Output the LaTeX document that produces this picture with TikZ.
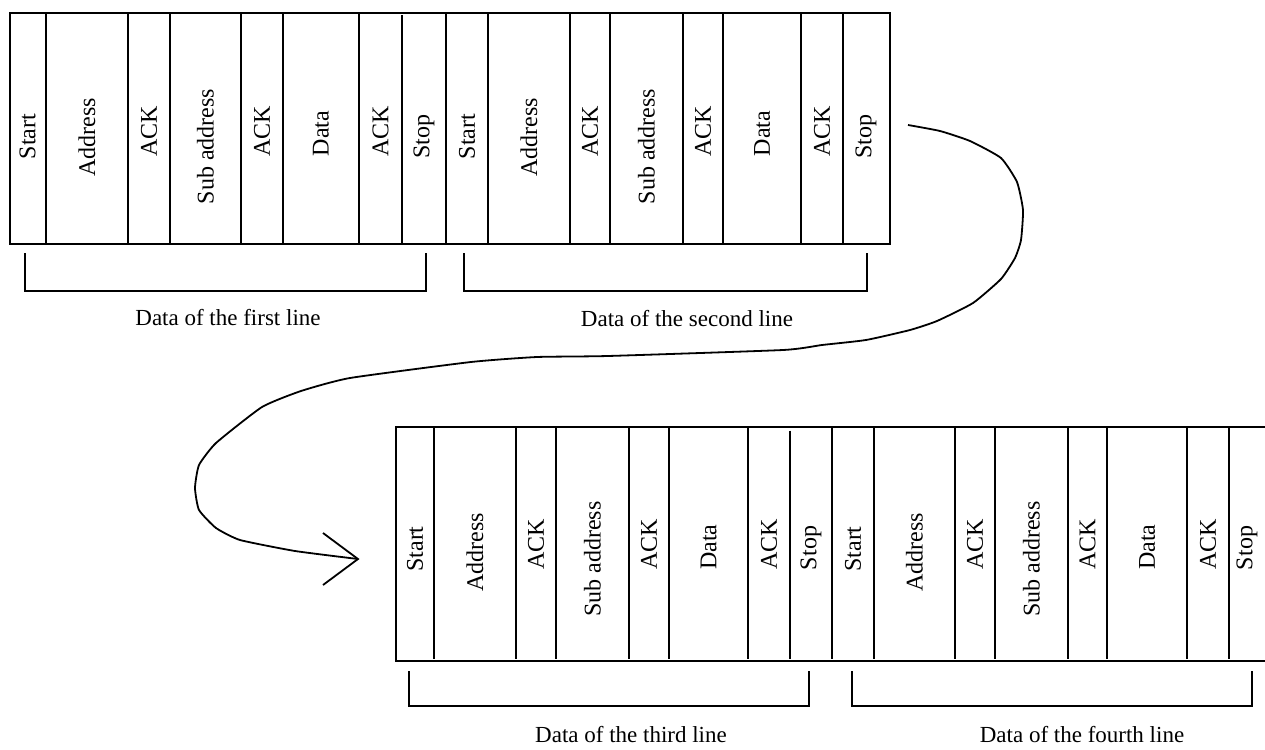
\documentclass[tikz,border=0pt]{standalone}
\usepackage{fontspec}
\setmainfont{Liberation Serif}
\begin{document}
\begin{tikzpicture}[x=1pt,y=-1pt,
  line width=1.8pt, line join=miter,
  lbl/.style={rotate=90,inner sep=0pt,font=\fontsize{24}{28}\selectfont},
  captext/.style={inner sep=0pt,font=\fontsize{23}{27}\selectfont},
  rowframe/.style={inner sep=0pt,anchor=north west}]
\useasboundingbox (0,0) rectangle (1265,749);

% ---- top row frame
\node[rowframe,draw,minimum width=880pt,minimum height=230.5pt] (row1) at (9,12.5) {};
% dividers top row
\foreach \x in {46,128,170,241,283,359,446,488,570,610,683,723,801,843}
  \draw (\x,12.5) -- (\x,243);
\draw (402,15.5) -- (402,243);

% ---- bottom row frame (open on the right)
\node[rowframe,minimum width=869pt,minimum height=232pt] (row2) at (396,427) {};
\draw (row2.north east) -- (row2.north west) -- (row2.south west) -- (row2.south east);
\foreach \x in {434,516,556,629,669,748,832,874,955,995,1068,1107,1187,1229}
  \draw (\x,427) -- (\x,659);
\draw (790,430.5) -- (790,659);

% ---- labels top row
\foreach \cx/\dy/\t [count=\i] in {
  27.5/124/Start, 87/125/Address, 149/119/ACK, 205.5/134/Sub address,
  262/119/ACK, 321/121/Data, 380.5/119/ACK, 424/124/Stop,
  467/124/Start, 529/125/Address, 590/119/ACK, 646.5/134/Sub address,
  703/119/ACK, 762/121/Data, 822/119/ACK, 866/124/Stop}
  \node[lbl] (a\i) at (\cx,12.5+\dy) {\t};

% ---- labels bottom row
\foreach \cx/\dy/\t [count=\i] in {
  415/122/Start, 475/125/Address, 536/117/ACK, 592.5/132/Sub address,
  649/117/ACK, 708.5/120/Data, 769/117/ACK, 811/121/Stop,
  853/122/Start, 914.5/125/Address, 975/117/ACK, 1031.5/132/Sub address,
  1087.5/117/ACK, 1147/120/Data, 1208/117/ACK, 1247/121/Stop}
  \node[lbl] (b\i) at (\cx,427+\dy) {\t};

% ---- brackets
\draw (25,253) -- (25,291) -- (426,291) -- (426,253);
\draw (464,253) -- (464,291) -- (867,291) -- (867,253);
\draw (409,671) -- (409,706) -- (809,706) -- (809,671);
\draw (852,671) -- (852,706) -- (1252,706) -- (1252,671);

\node[captext] (c1) at (228,318) {Data of the first line};
\node[captext] (c2) at (687,319) {Data of the second line};
\node[captext] (c3) at (631,735) {Data of the third line};
\node[captext] (c4) at (1082,735) {Data of the fourth line};

% ---- connecting curve
\coordinate (cs) at (908,125);
\coordinate (ce) at (358,559);
\draw[line join=round] plot[smooth,tension=0.3] coordinates {
 (cs) (940,131) (970,141) (1001,158) (1017,182) (1023,210) (1021,240)
 (1015,258) (1001,279) (973,303) (937,321) (910,330) (866,340) (822,345)
 (783,350) (608,356) (537,357) (471,362) (350,378) (301,391) (262,407)
 (216,443) (199,465) (195,488) (199,510) (216,528) (240,540) (295,551) (ce)};
\draw (323,533) -- (ce) -- (323,585);
\end{tikzpicture}
\end{document}
